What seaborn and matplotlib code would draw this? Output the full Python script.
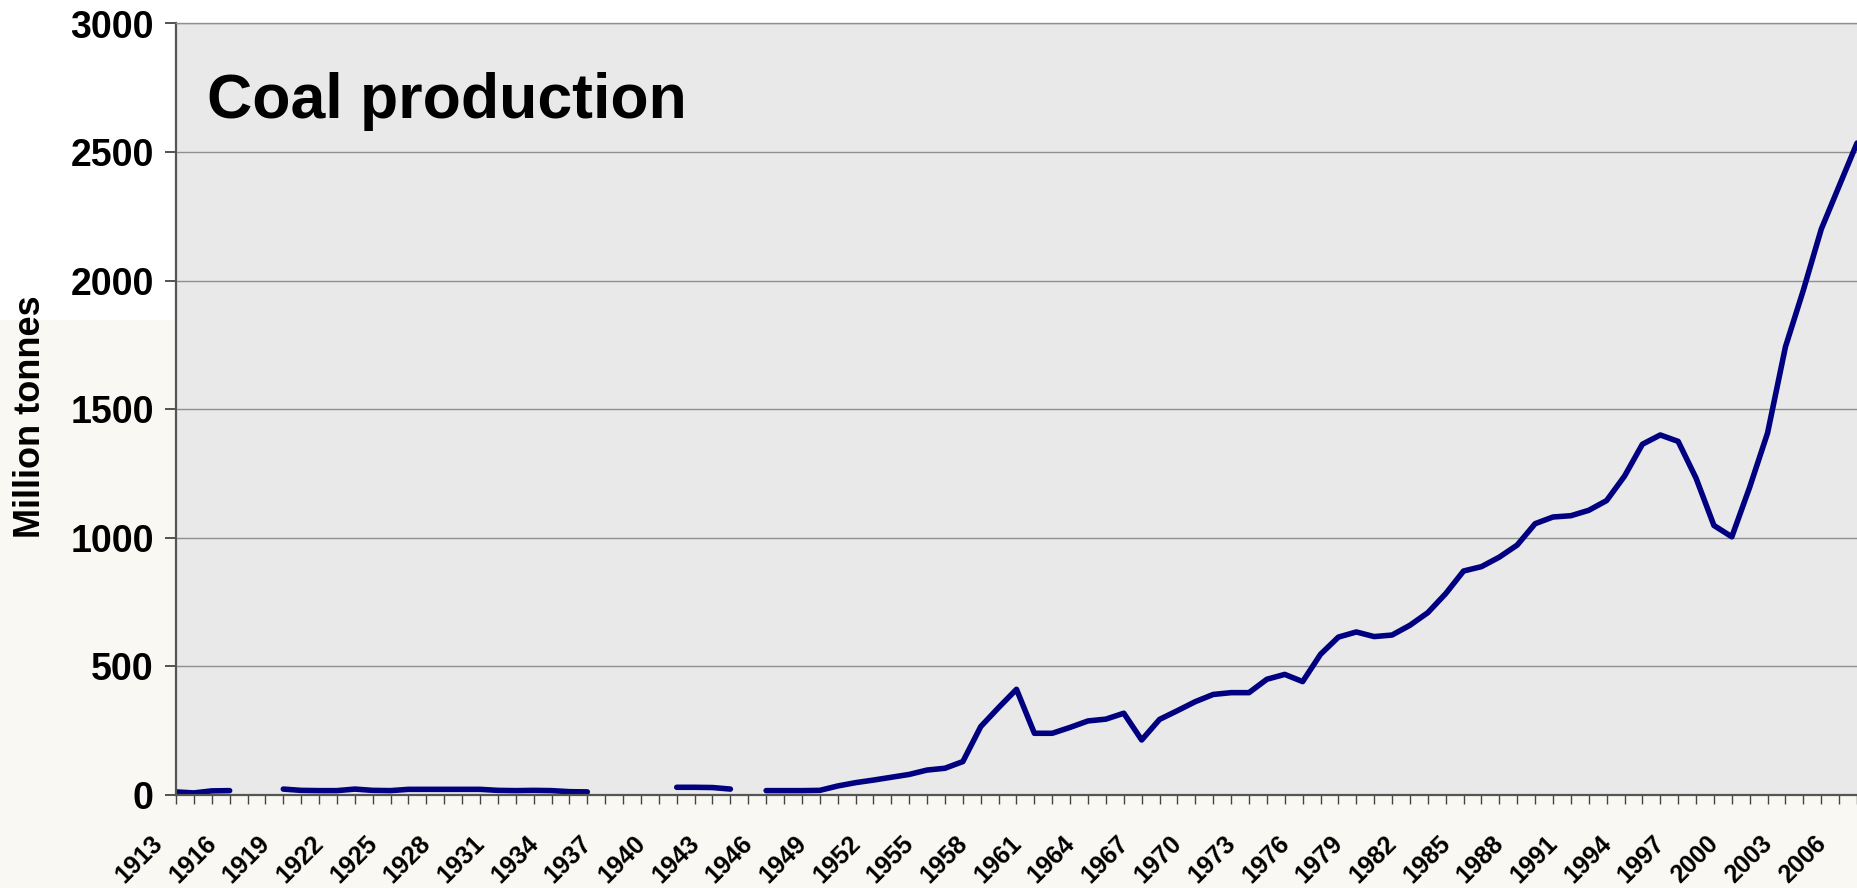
import numpy as np
import pandas as pd
import matplotlib
matplotlib.use('Agg')
import matplotlib.pyplot as plt
import matplotlib.transforms as mtransforms
from matplotlib.patches import Rectangle
import seaborn as sns

# yearly coal production, million tonnes (None = no data)
years = list(range(1913, 2008))
production = [
    12, 8, 16, 17, None, None, 23, 18, 17, 17,          # 1913-1922
    23, 18, 17, 22, 22, 22, 22, 22, 18, 17,             # 1923-1932
    18, 17, 13, 12, None, None, None, None, 30, 30,     # 1933-1942
    29, 23, None, 17, 17, 17, 18, 35, 48, 58,           # 1943-1952
    69, 80, 97, 104, 130, 266, 340, 411, 240, 240,      # 1953-1962
    263, 288, 295, 318, 214, 294, 328, 363, 391, 398,   # 1963-1972
    398, 450, 469, 441, 547, 614, 634, 616, 622, 660,   # 1973-1982
    709, 783, 871, 888, 925, 972, 1055, 1081, 1086, 1107,  # 1983-1992
    1145, 1240, 1364, 1400, 1375, 1232, 1048, 1004, 1197, 1408,  # 1993-2002
    1743, 1963, 2200, 2368, 2535,                       # 2003-2007
]
label_years = list(range(1913, 2007, 3))
y_ticks = [0, 500, 1000, 1500, 2000, 2500, 3000]

df = pd.DataFrame({'year': years, 'production': production})
# split the series where values are missing so the line breaks
df['segment'] = df['production'].isna().cumsum()
df = df.dropna()

sns.set_theme(style="white")
plt.rcParams['font.family'] = ['Liberation Sans', 'DejaVu Sans']
plt.rcParams['font.weight'] = 'bold'

W, H = 1857, 888
fig = plt.figure(figsize=(W / 100, H / 100), dpi=100)
fig.patch.set_facecolor('#faf8f2')
# white areas of the slide behind the chart
fig.add_artist(Rectangle((0, 1 - 320 / H), 176 / W, 320 / H, transform=fig.transFigure,
                         facecolor='white', edgecolor='none', zorder=-2))
fig.add_artist(Rectangle((0, 1 - 24 / H), 1, 24 / H, transform=fig.transFigure,
                         facecolor='white', edgecolor='none', zorder=-2))

ax = fig.add_axes([176 / W, 93 / H, 1 - 176 / W, (795 - 23.5) / H])
ax.set_facecolor('#e9e9e9')

sns.lineplot(data=df, x='year', y='production', units='segment', estimator=None,
             color='#000080', linewidth=4.0, ax=ax, legend=False)

ax.set_xlim(1913, 2007)
ax.set_ylim(0, 3000)
ax.set_yticks(y_ticks)
ax.set_yticklabels([str(v) for v in y_ticks], fontsize=27, fontweight='bold', color='black')
ax.yaxis.grid(True, color='#8f8f8f', linewidth=1.0)
ax.xaxis.grid(False)

ax.set_xticks(years)
ax.set_xticklabels([])

# year labels, slanted, ending a little left of their tick
lbl_trans = (mtransforms.blended_transform_factory(ax.transData, ax.transAxes)
             + mtransforms.ScaledTranslation(-17 / 100, -45 / 100, fig.dpi_scale_trans))
for yr in label_years:
    ax.text(yr, 0, str(yr), transform=lbl_trans, fontsize=18, fontweight='bold',
            color='black', rotation=45, ha='right', va='center',
            rotation_mode='anchor', clip_on=False)

ax.tick_params(axis='y', which='major', direction='out', length=8, width=1.3,
               color='#444444', pad=8, left=True)
ax.tick_params(axis='x', which='both', direction='out', length=6.5, width=1.0,
               color='#444444', bottom=True)

for side in ['left', 'bottom']:
    ax.spines[side].set_color('#555555')
    ax.spines[side].set_linewidth(1.6)
ax.spines['top'].set_color('#8f8f8f')
ax.spines['top'].set_linewidth(1.0)
ax.spines['right'].set_visible(False)

ax.set_xlabel('')
ax.set_ylabel('Million tonnes', fontsize=26, fontweight='bold', color='black')
ax.yaxis.set_label_coords(-0.076, 0.49)

fig.text(207 / W, 1 - 118 / H, 'Coal production', fontsize=45, fontweight='bold',
         va='baseline', ha='left', color='black')

fig.savefig('out.png', dpi=100, facecolor=fig.get_facecolor())
